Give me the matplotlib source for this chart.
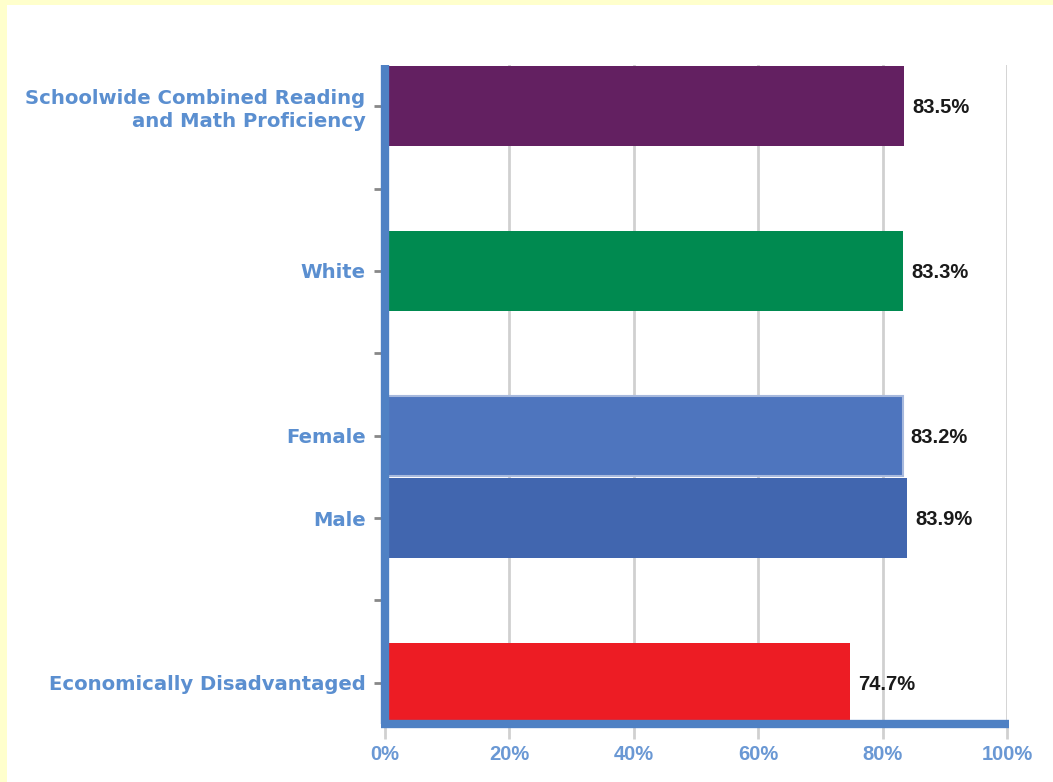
import matplotlib
matplotlib.use("Agg")
import matplotlib.pyplot as plt
from matplotlib.patches import Rectangle
from matplotlib import font_manager

categories = ["Schoolwide Combined Reading\nand Math Proficiency", "", "White", "",
              "Female", "Male", "", "Economically Disadvantaged"]
values = [83.5, None, 83.3, None, 83.2, 83.9, None, 74.7]
colors = ["#632061", None, "#008A50", None, "#4E75BE", "#4166AF", None, "#ED1C24"]
edges = ["none", None, "none", None, "#A7B9DD", "none", None, "none"]
xticks = [0, 20, 40, 60, 80, 100]
xticklabels = ["0%", "20%", "40%", "60%", "80%", "100%"]

names = {f.name for f in font_manager.fontManager.ttflist}
narrow = "Liberation Sans Narrow" if "Liberation Sans Narrow" in names else "Liberation Sans"

W, H = 1053, 782
fig = plt.figure(figsize=(W / 100, H / 100), dpi=100)
fig.patch.set_facecolor("#FFFFCC")
fig.patches.append(Rectangle((7 / W, 0), 1, (H - 5) / H, transform=fig.transFigure,
                             facecolor="white", edgecolor="none", zorder=-10))

left, right, top, bottom = 385, 1007, 65, 724
ax = fig.add_axes([left / W, (H - bottom) / H, (right - left) / W, (bottom - top) / H])
ax.set_facecolor("white")
ax.set_zorder(1)

pos = list(range(len(categories)))
for i, (v, c, e) in enumerate(zip(values, colors, edges)):
    if v is None:
        continue
    ax.barh(i, v, height=0.97, color=c, edgecolor=e, linewidth=1.5 if e != "none" else 0, zorder=3)
    ax.text(v + 1.3, i + 0.02, f"{v:.1f}%", va="center", ha="left", fontsize=14.5,
            fontweight="bold", color="#1A1A1A", family=narrow, zorder=4)

ax.set_xlim(0, 100)
ax.set_ylim(len(categories) - 0.5, -0.5)
ax.set_yticks(pos)
ax.set_yticklabels(categories, fontsize=14.1, fontweight="bold", color="#5B8FD0",
                   family="DejaVu Sans", linespacing=1.25)
ax.set_xticks(xticks)
ax.set_xticklabels(xticklabels, fontsize=14.5, fontweight="bold", color="#6A98D4", family=narrow)
ax.tick_params(axis="y", length=8, width=2, color="#888888", pad=6)
ax.tick_params(axis="x", length=11, width=2, color="#D0D0D0", direction="out", pad=4)
ax.grid(axis="x", color="#D0D0D0", linewidth=2, zorder=0)
ax.set_axisbelow(True)
for s in ["top", "right"]:
    ax.spines[s].set_visible(False)
for s in ["left", "bottom"]:
    ax.spines[s].set_color("#4F81C4")
    ax.spines[s].set_linewidth(6)
    ax.spines[s].set_zorder(5)
    ax.spines[s].set_capstyle("butt")
ax.spines["bottom"].set_bounds(-0.6, 100.4)

fig.savefig("out.png", dpi=100, facecolor=fig.get_facecolor())
